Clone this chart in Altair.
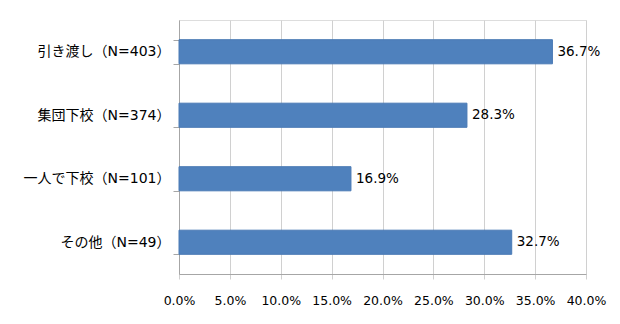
import altair as alt
import pandas as pd

categories = ["引き渡し（N=403）", "集団下校（N=374）", "一人で下校（N=101）", "その他（N=49）"]
values = [0.367, 0.283, 0.169, 0.327]

df = pd.DataFrame({"cat": categories, "val": values})

FONT = "DejaVu Sans, Noto Sans CJK JP"

y = alt.Y("cat:N", sort=categories, title=None,
          scale=alt.Scale(paddingInner=0.62, paddingOuter=0.31),
          axis=alt.Axis(tickBand="extent", labelFontSize=14, labelFont=FONT,
                        labelColor="#000000", labelPadding=3, tickSize=6,
                        tickColor="#a6a6a6", domainColor="#a6a6a6", grid=False))
x = alt.X("val:Q", title=None,
          scale=alt.Scale(domain=[0, 0.4], nice=False),
          axis=alt.Axis(format=".1%", values=[i * 0.05 for i in range(9)],
                        labelFontSize=12.5, labelFont=FONT, labelColor="#000000",
                        labelOverlap=False, labelFlush=False,
                        labelPadding=15, tickSize=5, tickColor="#d0d0d0",
                        domainColor="#a6a6a6", gridColor="#d0d0d0"))

bars = alt.Chart(df).mark_bar(color="#4F81BD", stroke="#4a7ab5", strokeWidth=1).encode(x=x, y=y)
labels = alt.Chart(df).mark_text(align="left", dx=5, font=FONT, fontSize=13.5, color="#000000").encode(
    x="val:Q", y=alt.Y("cat:N", sort=categories), text=alt.Text("val:Q", format=".1%"))

chart = (bars + labels).properties(
    width=407, height=254,
    autosize=alt.AutoSizeParams(type="none"),
    padding={"left": 179, "top": 20, "right": 34, "bottom": 50},
).configure_view(stroke=None).configure(background="#ffffff")

chart.save("out.html", embed_options={"renderer": "svg", "actions": False})
